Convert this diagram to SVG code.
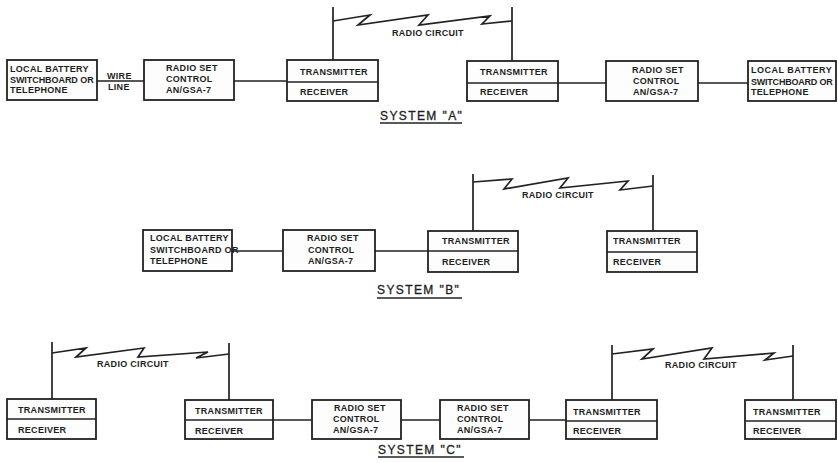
<svg xmlns="http://www.w3.org/2000/svg" width="838" height="463" viewBox="0 0 838 463">
<style>
.box{fill:#fdfdfd;stroke:#222;stroke-width:1.8}
.div{stroke:#222;stroke-width:1.6}
.w{fill:none;stroke:#222;stroke-width:1.7;stroke-linejoin:miter}
.t{font-family:"Liberation Sans",Arial,sans-serif;font-weight:bold;font-size:9px;letter-spacing:0.3px;fill:#1e1e1e}
.s{font-family:"Liberation Sans",Arial,sans-serif;font-size:12px;letter-spacing:1.4px;fill:#1e1e1e;stroke:#1e1e1e;stroke-width:0.3}
</style>
<rect width="838" height="463" fill="#ffffff"/>
<g id="connectors">
<!-- System A -->
<path class="w" d="M97,81H144M234,81H287M558,83H606M698,83H748"/>
<path class="w" d="M333,7V60M512,7V61"/>
<path class="w" d="M333,21L370,15L358,25L428,15L419,25L490,16L482,24L512,21"/>
<text class="t" x="107" y="79">WIRE</text>
<text class="t" x="108" y="90">LINE</text>
<text class="t" x="392" y="36">RADIO CIRCUIT</text>
<!-- System B -->
<path class="w" d="M232,251H283M375,251H428"/>
<path class="w" d="M473,174V231M653,175V231"/>
<path class="w" d="M473,182L512,179L504,189L568,178L560,188L628,181L620,190L653,186"/>
<text class="t" x="522" y="198">RADIO CIRCUIT</text>
<!-- System C -->
<path class="w" d="M273,420H312M401,420H440M529,420H566"/>
<path class="w" d="M52,342V399M229,343V400M612,345V400M793,345V400"/>
<path class="w" d="M52,353L86,348L76,357L144,348L138,357L208,352L196,358L229,354"/>
<path class="w" d="M612,354L653,349L642,359L712,348L704,359L774,353L765,360L793,356"/>
<text class="t" x="97" y="367">RADIO CIRCUIT</text>
<text class="t" x="665" y="368">RADIO CIRCUIT</text>
</g>
<!-- System A nodes -->
<g id="a_local1">
<rect class="box" x="7" y="60" width="90" height="40"/>
<text class="t" x="10" y="72">LOCAL BATTERY</text>
<text class="t" x="10" y="83" textLength="84">SWITCHBOARD OR</text>
<text class="t" x="10" y="93">TELEPHONE</text>
</g>
<g id="a_rsc1">
<rect class="box" x="144" y="60" width="90" height="40"/>
<text class="t" x="166" y="71">RADIO SET</text>
<text class="t" x="166" y="82">CONTROL</text>
<text class="t" x="166" y="93">AN/GSA-7</text>
</g>
<g id="a_tr1">
<rect class="box" x="287" y="60" width="91" height="41"/>
<line class="div" x1="287" y1="82" x2="378" y2="82"/>
<text class="t" x="300" y="75">TRANSMITTER</text>
<text class="t" x="300" y="95">RECEIVER</text>
</g>
<g id="a_tr2">
<rect class="box" x="467" y="61" width="91" height="40"/>
<line class="div" x1="467" y1="83" x2="558" y2="83"/>
<text class="t" x="480" y="75">TRANSMITTER</text>
<text class="t" x="480" y="95">RECEIVER</text>
</g>
<g id="a_rsc2">
<rect class="box" x="606" y="61" width="92" height="40"/>
<text class="t" x="632" y="73">RADIO SET</text>
<text class="t" x="633" y="84">CONTROL</text>
<text class="t" x="633" y="95">AN/GSA-7</text>
</g>
<g id="a_local2">
<rect class="box" x="748" y="61" width="88" height="40"/>
<text class="t" x="751" y="73" textLength="81">LOCAL BATTERY</text>
<text class="t" x="751" y="85" textLength="82">SWITCHBOARD OR</text>
<text class="t" x="751" y="95">TELEPHONE</text>
</g>
<g id="label_a">
<text class="s" x="380" y="120">SYSTEM "A"</text>
<line class="div" x1="380" y1="123" x2="462" y2="123"/>
</g>
<!-- System B nodes -->
<g id="b_local">
<rect class="box" x="143" y="230" width="89" height="41"/>
<text class="t" x="150" y="241">LOCAL BATTERY</text>
<text class="t" x="150" y="253">SWITCHBOARD OR</text>
<text class="t" x="150" y="264">TELEPHONE</text>
</g>
<g id="b_rsc">
<rect class="box" x="283" y="230" width="92" height="41"/>
<text class="t" x="307" y="241">RADIO SET</text>
<text class="t" x="308" y="253">CONTROL</text>
<text class="t" x="308" y="264">AN/GSA-7</text>
</g>
<g id="b_tr1">
<rect class="box" x="428" y="231" width="90" height="41"/>
<line class="div" x1="428" y1="251" x2="518" y2="251"/>
<text class="t" x="442" y="244">TRANSMITTER</text>
<text class="t" x="442" y="265">RECEIVER</text>
</g>
<g id="b_tr2">
<rect class="box" x="607" y="231" width="90" height="41"/>
<line class="div" x1="607" y1="252" x2="697" y2="252"/>
<text class="t" x="613" y="244">TRANSMITTER</text>
<text class="t" x="613" y="265">RECEIVER</text>
</g>
<g id="label_b">
<text class="s" x="377" y="294">SYSTEM "B"</text>
<line class="div" x1="377" y1="298" x2="462" y2="298"/>
</g>
<!-- System C nodes -->
<g id="c_tr1">
<rect class="box" x="7" y="399" width="89" height="40"/>
<line class="div" x1="7" y1="419" x2="96" y2="419"/>
<text class="t" x="18" y="413">TRANSMITTER</text>
<text class="t" x="18" y="433">RECEIVER</text>
</g>
<g id="c_tr2">
<rect class="box" x="185" y="400" width="88" height="39"/>
<line class="div" x1="185" y1="420" x2="273" y2="420"/>
<text class="t" x="195" y="414">TRANSMITTER</text>
<text class="t" x="195" y="434">RECEIVER</text>
</g>
<g id="c_rsc1">
<rect class="box" x="312" y="400" width="89" height="39"/>
<text class="t" x="334" y="411">RADIO SET</text>
<text class="t" x="333" y="422">CONTROL</text>
<text class="t" x="333" y="433">AN/GSA-7</text>
</g>
<g id="c_rsc2">
<rect class="box" x="440" y="400" width="89" height="39"/>
<text class="t" x="457" y="411">RADIO SET</text>
<text class="t" x="457" y="422">CONTROL</text>
<text class="t" x="457" y="433">AN/GSA-7</text>
</g>
<g id="c_tr3">
<rect class="box" x="566" y="400" width="91" height="39"/>
<line class="div" x1="566" y1="421" x2="657" y2="421"/>
<text class="t" x="573" y="415">TRANSMITTER</text>
<text class="t" x="573" y="434">RECEIVER</text>
</g>
<g id="c_tr4">
<rect class="box" x="745" y="400" width="91" height="39"/>
<line class="div" x1="745" y1="421" x2="836" y2="421"/>
<text class="t" x="753" y="415">TRANSMITTER</text>
<text class="t" x="753" y="434">RECEIVER</text>
</g>
<g id="label_c">
<text class="s" x="378" y="454">SYSTEM "C"</text>
<line class="div" x1="378" y1="457" x2="464" y2="457"/>
</g>
</svg>
